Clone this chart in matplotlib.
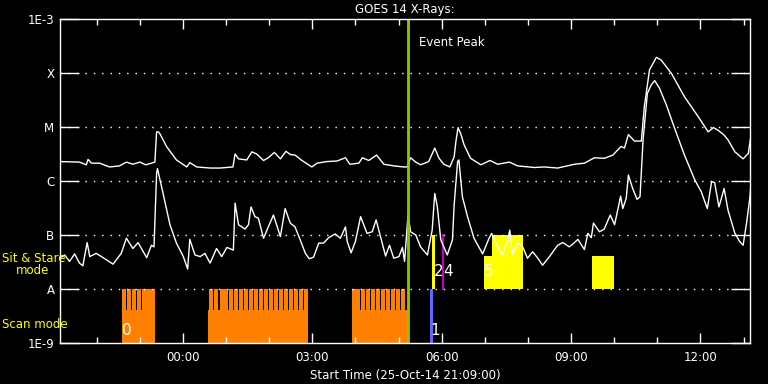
import numpy as np
import matplotlib
matplotlib.use('Agg')
import matplotlib.pyplot as plt

# ---------------------------------------------------------
# GOES 14 X-ray flux, hours since 26-Oct 00:00, log10(W/m^2)
long_t = [-2.86, -2.40, -2.24, -2.20, -2.12, -1.93, -1.70, -1.47, -1.31, -1.16,
          -1.00, -0.86, -0.73, -0.65, -0.61, -0.57, -0.53, -0.38, -0.15, 0.09,
          0.16, 0.32, 0.63, 0.86, 1.16, 1.21, 1.29, 1.48, 1.60, 1.71,
          1.87, 1.98, 2.12, 2.26, 2.39, 2.49, 2.60, 2.76, 2.99, 3.11,
          3.34, 3.57, 3.77, 3.87, 4.08, 4.16, 4.31, 4.49, 4.66, 4.89,
          5.12, 5.20, 5.28, 5.40, 5.51, 5.70, 5.84, 5.94, 6.05, 6.19,
          6.29, 6.33, 6.38, 6.44, 6.52, 6.67, 6.91, 7.12, 7.30, 7.57,
          7.76, 8.15, 8.38, 8.69, 9.08, 9.31, 9.54, 9.77, 9.97, 10.16,
          10.24, 10.33, 10.47, 10.63, 10.70, 10.82, 10.98, 11.09, 11.33, 11.63,
          11.95, 12.18, 12.30, 12.41, 12.55, 12.64, 12.80, 12.99, 13.11, 13.19]
long_flux = [-5.64, -5.65, -5.70, -5.60, -5.67, -5.67, -5.74, -5.72, -5.65, -5.69,
             -5.65, -5.70, -5.67, -5.65, -5.09, -5.09, -5.13, -5.36, -5.61, -5.74,
             -5.66, -5.74, -5.76, -5.76, -5.74, -5.50, -5.59, -5.61, -5.46, -5.50,
             -5.62, -5.57, -5.47, -5.59, -5.45, -5.51, -5.52, -5.62, -5.74, -5.67,
             -5.64, -5.63, -5.57, -5.69, -5.67, -5.57, -5.62, -5.52, -5.69, -5.72,
             -5.74, -5.74, -5.57, -5.65, -5.70, -5.64, -5.39, -5.58, -5.69, -5.74,
             -5.55, -5.27, -5.01, -5.12, -5.33, -5.58, -5.70, -5.62, -5.69, -5.65,
             -5.72, -5.75, -5.74, -5.76, -5.69, -5.67, -5.57, -5.58, -5.52, -5.36,
             -5.39, -5.14, -5.26, -5.26, -4.62, -3.94, -3.71, -3.76, -4.01, -4.44,
             -4.81, -5.09, -5.01, -5.06, -5.15, -5.24, -5.46, -5.59, -5.49, -5.07]

short_t = [-2.86, -2.74, -2.63, -2.51, -2.40, -2.32, -2.22, -2.16, -2.01, -1.85,
           -1.62, -1.43, -1.31, -1.16, -1.04, -0.84, -0.73, -0.67, -0.61, -0.59,
           -0.46, -0.30, -0.15, 0.01, 0.11, 0.16, 0.28, 0.40, 0.51, 0.63,
           0.78, 0.90, 1.02, 1.17, 1.21, 1.29, 1.44, 1.52, 1.58, 1.67,
           1.75, 1.87, 1.98, 2.10, 2.26, 2.37, 2.49, 2.60, 2.72, 2.84,
           2.93, 3.03, 3.15, 3.26, 3.38, 3.53, 3.65, 3.77, 3.81, 3.90,
           4.00, 4.12, 4.27, 4.39, 4.48, 4.62, 4.70, 4.79, 4.89, 5.01,
           5.09, 5.14, 5.22, 5.28, 5.40, 5.51, 5.67, 5.78, 5.84, 5.90,
           5.98, 6.13, 6.25, 6.29, 6.37, 6.40, 6.48, 6.60, 6.75, 6.95,
           7.10, 7.16, 7.30, 7.41, 7.53, 7.58, 7.64, 7.76, 7.88, 7.99,
           8.11, 8.23, 8.34, 8.50, 8.69, 8.81, 8.96, 9.08, 9.16, 9.31,
           9.39, 9.47, 9.52, 9.66, 9.77, 9.91, 10.01, 10.15, 10.20, 10.28,
           10.33, 10.43, 10.53, 10.60, 10.67, 10.77, 10.86, 10.94, 11.05, 11.21,
           11.40, 11.63, 11.87, 12.02, 12.16, 12.26, 12.33, 12.43, 12.55, 12.64,
           12.80, 12.91, 12.99, 13.07, 13.15, 13.19]
short_flux = [-7.43, -7.37, -7.49, -7.35, -7.52, -7.57, -7.14, -7.40, -7.34, -7.42,
              -7.54, -7.34, -7.06, -7.25, -7.14, -7.42, -7.19, -7.22, -5.86, -5.77,
              -6.23, -6.81, -7.15, -7.40, -7.63, -7.08, -7.37, -7.40, -7.34, -7.52,
              -7.25, -7.40, -7.23, -7.28, -6.41, -6.81, -6.89, -6.81, -6.48, -6.66,
              -6.69, -7.06, -6.85, -6.63, -7.03, -6.51, -6.78, -6.85, -7.09, -7.34,
              -7.44, -7.41, -7.15, -7.15, -7.05, -6.98, -7.06, -6.85, -7.12, -7.33,
              -7.12, -6.66, -6.97, -6.94, -6.72, -7.15, -7.39, -7.19, -7.43, -7.40,
              -7.23, -7.49, -6.63, -6.94, -7.00, -7.22, -7.37, -6.91, -6.23, -6.48,
              -7.09, -7.37, -7.09, -6.44, -5.64, -5.61, -6.29, -6.66, -7.06, -7.35,
              -7.06, -6.97, -7.22, -7.37, -7.09, -6.91, -7.37, -7.15, -7.22, -7.43,
              -7.31, -7.43, -7.56, -7.40, -7.19, -7.14, -7.22, -7.14, -7.08, -7.27,
              -6.97, -7.05, -6.78, -6.94, -6.89, -6.63, -6.81, -6.28, -6.51, -6.32,
              -5.89, -6.14, -6.34, -6.29, -5.24, -4.38, -4.22, -4.14, -4.28, -4.59,
              -5.02, -5.52, -5.98, -6.20, -6.51, -6.01, -6.03, -6.48, -6.14, -6.54,
              -6.97, -7.12, -7.19, -6.78, -6.29, -5.86]

# scan mode observations (hours)
scan_blocks = [(-1.42, -0.88), (-0.86, -0.65), (0.58, 2.88), (3.91, 5.22)]
scan_rasters = [-1.42, -1.30, -1.18, -1.07, -0.95, -0.86, -0.78, -0.74,
                0.60, 0.73, 0.85, 0.95, 1.07, 1.19, 1.30, 1.42, 1.53, 1.65,
                1.77, 1.88, 2.00, 2.12, 2.23, 2.35, 2.46, 2.58, 2.69, 2.81,
                3.91, 4.02, 4.13, 4.25, 4.37, 4.48, 4.60, 4.71, 4.83, 4.95, 5.06]
raster_len = 0.095
scan_labels = [('0', -1.30), ('1', 5.86)]

# sit & stare observations: start, end, top (log10 flux)
stare_obs = [(5.78, 5.85, -7.0), (6.98, 7.88, -7.39), (7.16, 7.88, -7.0), (9.49, 10.00, -7.39)]
stare_labels = [('2', 5.93), ('4', 6.15), ('5', 7.08)]
blue_obs = (5.74, 5.81)
magenta_t = 6.03

event_peak = 5.23
t_start, t_end = -2.85, 13.15

level_labels = ['1E-9', 'A', 'B', 'C', 'M', 'X', '1E-3']
hour_ticks = [0, 3, 6, 9, 12]
hour_labels = ['00:00', '03:00', '06:00', '09:00', '12:00']

# ---------------------------------------------------------
plt.rcParams['font.family'] = 'DejaVu Sans'
fig = plt.figure(figsize=(7.68, 3.84), dpi=100, facecolor='black')
ax = fig.add_axes([60 / 768, 1 - 343 / 384, 690 / 768, 324 / 384], facecolor='black')
ax.set_yscale('log')
ax.set_xlim(t_start, t_end)
ax.set_ylim(1e-9, 1e-3)

# scan mode bars
for s, e in scan_blocks:
    ax.bar(s, 10 ** -8.39 - 1e-9, width=e - s, bottom=1e-9, align='edge',
           color='#ff8000', linewidth=0)
for s in scan_rasters:
    ax.bar(s, 1e-8 - 1e-9, width=raster_len, bottom=1e-9, align='edge',
           color='#ff8000', linewidth=0)
ax.bar(blue_obs[0], 1e-8 - 1e-9, width=blue_obs[1] - blue_obs[0], bottom=1e-9,
       align='edge', color='#6464ff', linewidth=0)

# sit & stare bars
for s, e, top in stare_obs:
    ax.bar(s, 10 ** top - 1e-8, width=e - s, bottom=1e-8, align='edge',
           color='#ffff00', linewidth=0)
ax.plot([magenta_t, magenta_t], [1e-8, 1e-7], color='#c000c0', lw=1.5)

# dotted level lines
for lv in [1e-8, 1e-7, 1e-6, 1e-5, 1e-4]:
    ax.axhline(lv, color='white', lw=1, ls=(0, (1, 5)))

# flux curves
ax.plot(long_t, 10 ** np.array(long_flux), color='white', lw=1)
ax.plot(short_t, 10 ** np.array(short_flux), color='white', lw=1)

ax.axvline(event_peak, color='#90c800', lw=2)
ax.text(event_peak + 0.24, 10 ** -3.44, 'Event Peak', color='white', fontsize=8.5,
        va='center', ha='left')

for txt, t in scan_labels:
    ax.text(t, 10 ** -8.76, txt, color='white', fontsize=11, ha='center', va='center')
for txt, t in stare_labels:
    ax.text(t, 10 ** -7.68, txt, color='white', fontsize=11, ha='center', va='center')

# axes styling
for sp in ax.spines.values():
    sp.set_color('white')
    sp.set_linewidth(1)
ax.set_yticks([1e-9, 1e-8, 1e-7, 1e-6, 1e-5, 1e-4, 1e-3])
ax.set_yticklabels(level_labels)
ax.yaxis.set_minor_locator(matplotlib.ticker.NullLocator())
ax.tick_params(axis='y', which='major', direction='in', length=14, width=1,
               colors='white', labelsize=8.5, left=True, right=True, pad=4)
ax.set_xticks(hour_ticks)
ax.set_xticklabels(hour_labels)
ax.set_xticks(np.arange(-2, 14, 1), minor=True)
ax.tick_params(axis='x', which='major', direction='in', length=7, width=1,
               colors='white', labelsize=8.5, top=True, bottom=True, pad=6)
ax.tick_params(axis='x', which='minor', direction='in', length=4, width=1,
               colors='white', top=True, bottom=True)

ax.set_title('GOES 14 X-Rays:', color='white', fontsize=8.5, pad=4)
ax.set_xlabel('Start Time (25-Oct-14 21:09:00)', color='white', fontsize=8.5, labelpad=3)

fig.text(2 / 768, 1 - 259 / 384, 'Sit & Stare', color='#ffff00', fontsize=8.5,
         va='center', ha='left')
fig.text(33 / 768, 1 - 271 / 384, 'mode', color='#ffff00', fontsize=8.5,
         va='center', ha='center')
fig.text(2 / 768, 1 - 324 / 384, 'Scan mode', color='#ffff00', fontsize=8.5,
         va='center', ha='left')

fig.savefig('out.png', dpi=100, facecolor='black')
